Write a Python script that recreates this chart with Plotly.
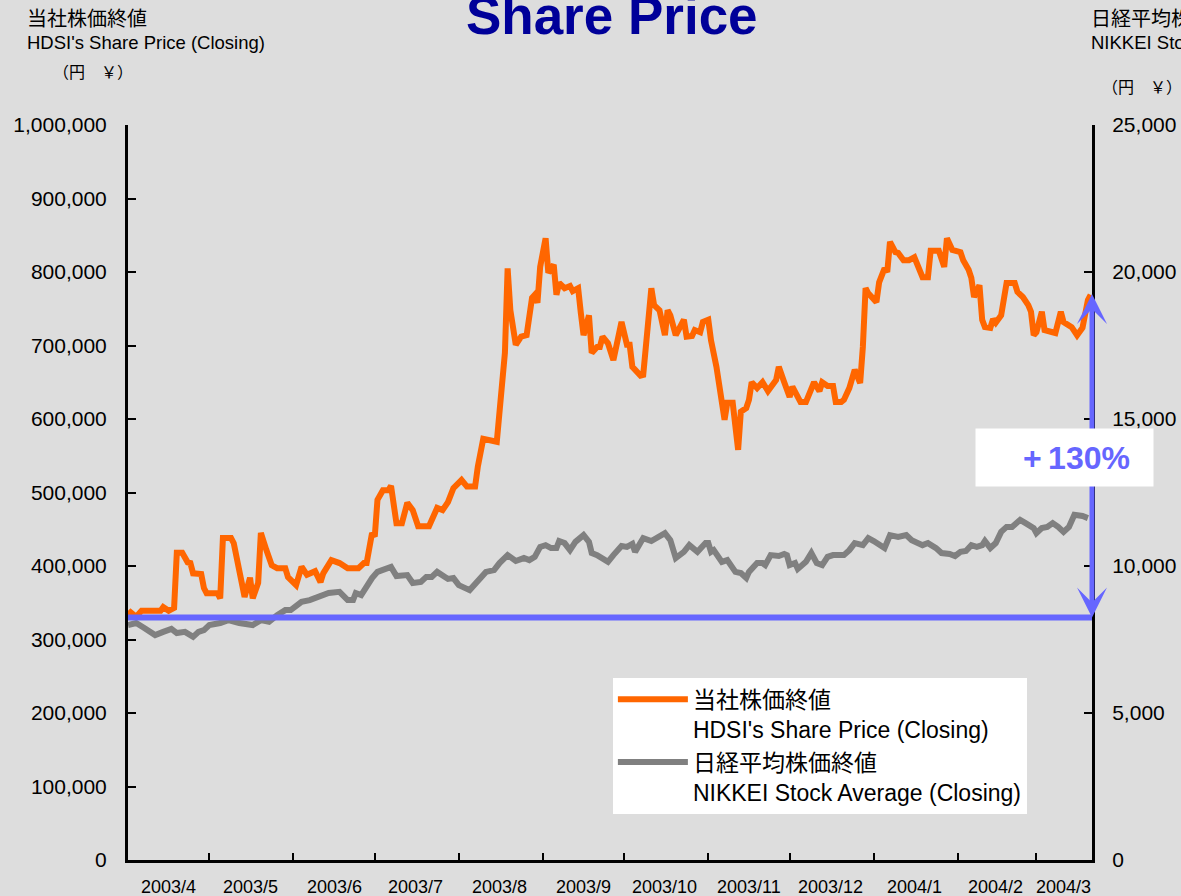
import plotly.graph_objects as go
from datetime import date, timedelta

# ---------------- data ----------------
HDSI_DATES = [
    "2003-04-01","2003-04-02","2003-04-04","2003-04-06","2003-04-13","2003-04-14","2003-04-16","2003-04-18",
    "2003-04-19","2003-04-21","2003-04-23","2003-04-24","2003-04-25","2003-04-28","2003-04-29","2003-04-30",
    "2003-05-04","2003-05-05","2003-05-06","2003-05-09","2003-05-10","2003-05-14","2003-05-16","2003-05-17",
    "2003-05-19","2003-05-20","2003-05-22","2003-05-24","2003-05-26","2003-05-29","2003-05-30",
    "2003-06-02","2003-06-04","2003-06-06","2003-06-09","2003-06-11","2003-06-12","2003-06-15","2003-06-18",
    "2003-06-21","2003-06-25","2003-06-27","2003-06-28","2003-06-30",
    "2003-07-01","2003-07-02","2003-07-04","2003-07-06","2003-07-07","2003-07-09","2003-07-11","2003-07-13",
    "2003-07-15","2003-07-17","2003-07-21","2003-07-24","2003-07-26","2003-07-28","2003-07-30",
    "2003-08-02","2003-08-04","2003-08-07","2003-08-08","2003-08-10","2003-08-15","2003-08-16","2003-08-18",
    "2003-08-19","2003-08-20","2003-08-22","2003-08-24","2003-08-26","2003-08-27","2003-08-28","2003-08-29",
    "2003-08-30","2003-08-31",
    "2003-09-02","2003-09-03","2003-09-05","2003-09-06","2003-09-07","2003-09-09","2003-09-11","2003-09-12",
    "2003-09-14","2003-09-15","2003-09-16","2003-09-18","2003-09-19","2003-09-21","2003-09-22","2003-09-23",
    "2003-09-25","2003-09-27","2003-09-30",
    "2003-10-02","2003-10-03","2003-10-04","2003-10-07","2003-10-08","2003-10-11","2003-10-12","2003-10-14",
    "2003-10-16","2003-10-17","2003-10-18","2003-10-20","2003-10-23","2003-10-24","2003-10-26","2003-10-27",
    "2003-10-29","2003-10-30",
    "2003-11-01","2003-11-02","2003-11-04","2003-11-06","2003-11-07","2003-11-08","2003-11-10","2003-11-12",
    "2003-11-13","2003-11-15","2003-11-16","2003-11-17","2003-11-19","2003-11-21","2003-11-23","2003-11-26",
    "2003-11-27","2003-11-29",
    "2003-12-01","2003-12-02","2003-12-05","2003-12-07","2003-12-10","2003-12-12","2003-12-13","2003-12-15",
    "2003-12-17","2003-12-18","2003-12-20","2003-12-21","2003-12-23","2003-12-25","2003-12-27","2003-12-28",
    "2003-12-29","2003-12-30",
    "2004-01-02","2004-01-03","2004-01-05","2004-01-06","2004-01-07","2004-01-09","2004-01-10","2004-01-12",
    "2004-01-14","2004-01-16","2004-01-17","2004-01-19","2004-01-21","2004-01-22","2004-01-25","2004-01-27",
    "2004-01-28","2004-01-30",
    "2004-02-02","2004-02-03","2004-02-05","2004-02-06","2004-02-07","2004-02-09","2004-02-10","2004-02-11",
    "2004-02-13","2004-02-14","2004-02-15","2004-02-17","2004-02-19","2004-02-22","2004-02-23","2004-02-25",
    "2004-02-27","2004-02-28","2004-02-29",
    "2004-03-01","2004-03-03","2004-03-04","2004-03-07","2004-03-08","2004-03-10","2004-03-11","2004-03-14",
    "2004-03-16","2004-03-18","2004-03-20","2004-03-21",
]
HDSI_PRICE = [
    333000,337000,331000,339000,339000,344000,339000,343000,
    418000,418000,405000,404000,390000,389000,370000,363000,
    363000,356000,438000,438000,431000,358000,384000,356000,
    377000,445000,422000,401000,397000,397000,385000,
    374000,399000,388000,393000,378000,390000,408000,404000,
    397000,397000,404000,404000,445000,
    440000,490000,503000,503000,509000,458000,458000,486000,
    476000,454000,454000,479000,476000,487000,506000,
    517000,508000,508000,535000,573000,569000,610000,690000,
    805000,748000,701000,712000,714000,748000,765000,769000,
    758000,807000,
    846000,799000,810000,769000,785000,778000,781000,774000,
    778000,744000,714000,741000,690000,698000,698000,712000,
    703000,680000,732000,
    701000,701000,671000,659000,660000,778000,755000,748000,
    714000,748000,741000,714000,735000,712000,713000,721000,
    718000,732000,
    735000,707000,671000,626000,599000,622000,622000,558000,
    610000,615000,626000,650000,642000,650000,638000,653000,
    671000,650000,
    630000,644000,623000,623000,650000,638000,650000,645000,
    645000,623000,623000,626000,642000,667000,649000,698000,
    778000,771000,
    759000,786000,805000,800000,841000,827000,826000,816000,
    816000,820000,812000,793000,793000,829000,829000,807000,
    846000,830000,
    827000,816000,803000,792000,766000,782000,735000,725000,
    724000,736000,731000,741000,785000,785000,773000,766000,
    755000,746000,714000,
    718000,746000,721000,718000,717000,746000,732000,725000,
    714000,724000,762000,769000,
]

NIKKEI_DATES = [
    "2003-04-01","2003-04-04","2003-04-07","2003-04-11","2003-04-14","2003-04-17","2003-04-19","2003-04-22",
    "2003-04-25","2003-04-27","2003-04-29",
    "2003-05-01","2003-05-05","2003-05-08","2003-05-12","2003-05-15","2003-05-17","2003-05-20","2003-05-23",
    "2003-05-26","2003-05-29","2003-05-31",
    "2003-06-04","2003-06-07","2003-06-11","2003-06-13","2003-06-14","2003-06-18","2003-06-21","2003-06-23",
    "2003-06-24","2003-06-26","2003-06-29","2003-06-30",
    "2003-07-02","2003-07-07","2003-07-09","2003-07-13","2003-07-15","2003-07-18","2003-07-20","2003-07-22",
    "2003-07-24","2003-07-28","2003-07-30",
    "2003-08-01","2003-08-05","2003-08-08","2003-08-11","2003-08-14","2003-08-16","2003-08-19","2003-08-22",
    "2003-08-25","2003-08-27","2003-08-29","2003-08-31",
    "2003-09-02","2003-09-04","2003-09-06","2003-09-07","2003-09-09","2003-09-11","2003-09-13","2003-09-16",
    "2003-09-18","2003-09-19","2003-09-21","2003-09-23","2003-09-25","2003-09-27","2003-09-30",
    "2003-10-02","2003-10-04","2003-10-05","2003-10-07","2003-10-08","2003-10-11","2003-10-14","2003-10-16",
    "2003-10-18","2003-10-20","2003-10-23","2003-10-25","2003-10-28","2003-10-31",
    "2003-11-01","2003-11-02","2003-11-03","2003-11-06","2003-11-08","2003-11-11","2003-11-13","2003-11-15",
    "2003-11-16","2003-11-19","2003-11-21","2003-11-22","2003-11-24","2003-11-27","2003-11-29","2003-11-30",
    "2003-12-01","2003-12-03","2003-12-04","2003-12-07","2003-12-09","2003-12-11","2003-12-13","2003-12-15",
    "2003-12-17","2003-12-21","2003-12-23","2003-12-25","2003-12-28","2003-12-30",
    "2004-01-01","2004-01-05","2004-01-07","2004-01-10","2004-01-13","2004-01-15","2004-01-19","2004-01-21",
    "2004-01-24","2004-01-26","2004-01-29","2004-01-31",
    "2004-02-02","2004-02-04","2004-02-06","2004-02-08","2004-02-10","2004-02-11","2004-02-13","2004-02-15",
    "2004-02-17","2004-02-19","2004-02-21","2004-02-24","2004-02-26","2004-02-29",
    "2004-03-01","2004-03-03","2004-03-05","2004-03-07","2004-03-09","2004-03-11","2004-03-13","2004-03-15",
    "2004-03-18","2004-03-20",
]
NIKKEI_AVG = [
    7990,8060,7890,7650,7760,7860,7720,7760,
    7590,7760,7820,
    7990,8060,8160,8060,7990,7990,8160,8100,
    8330,8500,8500,
    8780,8840,8980,9010,9080,9120,8840,8840,
    9080,9010,9520,9590,
    9800,9970,9660,9690,9420,9460,9630,9630,
    9800,9560,9590,
    9350,9180,9460,9800,9860,10100,10370,10170,
    10270,10200,10310,10650,
    10710,10610,10610,10850,10780,10540,10820,11050,
    10820,10440,10370,10240,10140,10370,10680,
    10650,10750,10480,10780,10950,10850,11020,11120,
    10880,10270,10480,10710,10480,10780,
    10780,10480,10540,10140,10200,9800,9760,9590,
    9800,10100,10100,10030,10370,10340,10410,10370,
    10030,10100,9900,10140,10440,10100,10030,10310,
    10370,10370,10540,10780,10710,10950,
    10850,10610,11050,10990,11050,10880,10710,10780,
    10610,10440,10410,10340,
    10480,10510,10710,10650,10710,10850,10610,10780,
    11160,11330,11330,11570,11460,11290,
    11120,11290,11330,11460,11330,11160,11330,11740,
    11700,11630,
]

MONTH_STARTS = ["2003-04-01","2003-05-01","2003-06-01","2003-07-01","2003-08-01","2003-09-01",
                "2003-10-01","2003-11-01","2003-12-01","2004-01-01","2004-02-01","2004-03-01"]
MONTH_LABELS = ["2003/4","2003/5","2003/6","2003/7","2003/8","2003/9",
                "2003/10","2003/11","2003/12","2004/1","2004/2","2004/3"]
X_START = "2003-04-01"
X_END = "2004-03-21 12:00"

BASE_PRICE = 330000      # starting level (blue baseline)
TARGET_PRICE = 770000    # level reached (+130%)
GAIN_LABEL = "+&#8201;130%"

LEFT_TICKS = [0, 100000, 200000, 300000, 400000, 500000, 600000, 700000, 800000, 900000, 1000000]
RIGHT_TICKS = [0, 5000, 10000, 15000, 20000, 25000]

# ---------------- styling ----------------
BG = "#DDDDDD"
ORANGE = "#FF6600"
GRAY = "#808080"
BLUE = "#6666FF"
FONT = "Liberation Sans, Arial, Noto Sans CJK JP, sans-serif"

fig = go.Figure()

fig.add_trace(go.Scatter(
    x=NIKKEI_DATES, y=NIKKEI_AVG, yaxis="y2", mode="lines",
    line=dict(color=GRAY, width=6),
    name="日経平均株価終値<br>NIKKEI Stock Average (Closing)", legendrank=2,
))
fig.add_trace(go.Scatter(
    x=HDSI_DATES, y=HDSI_PRICE, yaxis="y", mode="lines",
    line=dict(color=ORANGE, width=6),
    name="当社株価終値<br>HDSI's Share Price (Closing)", legendrank=1,
))

# month label positions: middle of the visible part of each month
def _d(s):
    return date.fromisoformat(s[:10])

end_d = _d(X_END) + timedelta(hours=12)
label_pos = []
for i, s in enumerate(MONTH_STARTS):
    a = _d(s)
    b = _d(MONTH_STARTS[i + 1]) if i + 1 < len(MONTH_STARTS) else end_d
    label_pos.append((a + (b - a) / 2).isoformat())

annotations = []
for pos, lab in zip(label_pos, MONTH_LABELS):
    annotations.append(dict(x=pos, xref="x", y=-0.037, yref="paper", text=lab,
                            showarrow=False, xanchor="center", yanchor="middle",
                            font=dict(size=18, color="black", family=FONT)))

MID = 547000
annotations += [
    dict(x=1, xref="paper", y=TARGET_PRICE, yref="y", ax=0, axref="pixel", ay=MID, ayref="y",
         showarrow=True, arrowhead=3, arrowsize=1, arrowwidth=5, arrowcolor=BLUE, text=""),
    dict(x=1, xref="paper", y=BASE_PRICE, yref="y", ax=0, axref="pixel", ay=MID, ayref="y",
         showarrow=True, arrowhead=3, arrowsize=1, arrowwidth=5, arrowcolor=BLUE, text=""),
    dict(x=0.9715, xref="paper", y=0.547, yref="paper", text=" ", showarrow=False,
         bgcolor="white", width=177, height=57, borderpad=0,
         xanchor="center", yanchor="middle", font=dict(size=10)),
    dict(x=0.984, xref="paper", y=0.547, yref="paper", text="<b>" + GAIN_LABEL + "</b>",
         showarrow=False, xanchor="center", yanchor="middle",
         font=dict(size=32, color=BLUE, family=FONT)),
    # axis headers
    dict(x=-0.1068, xref="paper", y=1.1442, yref="paper", text="当社株価終値", showarrow=False,
         xanchor="left", yanchor="middle", font=dict(size=20, color="black", family=FONT)),
    dict(x=-0.1068, xref="paper", y=1.1116, yref="paper", text="HDSI's Share Price (Closing)",
         showarrow=False, xanchor="left", yanchor="middle",
         font=dict(size=18.5, color="black", family=FONT)),
    dict(x=-0.080, xref="paper", y=1.0721, yref="paper", text="（円　￥）", showarrow=False,
         xanchor="left", yanchor="middle", font=dict(size=16, color="black", family=FONT)),
    dict(x=0.9969, xref="paper", y=1.1442, yref="paper", text="日経平均株価終値", showarrow=False,
         xanchor="left", yanchor="middle", font=dict(size=20, color="black", family=FONT)),
    dict(x=0.9969, xref="paper", y=1.1116, yref="paper", text="NIKKEI Stock Average (Closing)",
         showarrow=False, xanchor="left", yanchor="middle",
         font=dict(size=18.5, color="black", family=FONT)),
    dict(x=1.0083, xref="paper", y=1.0517, yref="paper", text="（円　￥）", showarrow=False,
         xanchor="left", yanchor="middle", font=dict(size=16, color="black", family=FONT)),
]

fig.update_layout(
    width=1181, height=896,
    paper_bgcolor=BG, plot_bgcolor=BG,
    margin=dict(l=128, r=89, t=125, b=36, autoexpand=False),
    font=dict(family=FONT, color="black"),
    title=dict(text="<b>Share Price</b>", x=0.518, xanchor="center", y=0.983, yanchor="middle",
               font=dict(size=53, color="#000099", family=FONT)),
    xaxis=dict(type="date", range=[X_START, X_END], tickmode="array", tickvals=MONTH_STARTS[1:],
               showticklabels=False, ticks="inside", ticklen=7, tickwidth=2, tickcolor="black",
               showline=True, linecolor="black", linewidth=3, showgrid=False, zeroline=False,
               automargin=False),
    yaxis=dict(range=[0, 1000000], tickmode="array", tickvals=LEFT_TICKS, tickformat=",",
               ticks="inside", ticklen=8, tickwidth=2, tickcolor="black",
               showline=True, linecolor="black", linewidth=3, showgrid=False, zeroline=False,
               tickfont=dict(size=21, color="black"), ticklabelstandoff=14, automargin=False),
    yaxis2=dict(range=[0, 25000], overlaying="y", side="right", tickmode="array",
                tickvals=RIGHT_TICKS, tickformat=",",
                ticks="inside", ticklen=8, tickwidth=2, tickcolor="black",
                showline=True, linecolor="black", linewidth=3, showgrid=False, zeroline=False,
                tickfont=dict(size=21, color="black"), ticklabelstandoff=13, automargin=False),
    legend=dict(x=0.503, xanchor="left", y=0.248, yanchor="top", bgcolor="white",
                font=dict(size=23, color="black"), valign="top", itemwidth=70,
                tracegroupgap=0),
    shapes=[dict(type="line", xref="paper", x0=0, x1=1, yref="y", y0=BASE_PRICE, y1=BASE_PRICE,
                 line=dict(color=BLUE, width=6), layer="above")],
    annotations=annotations,
    showlegend=True,
)

fig.write_html("out.html", config={"displayModeBar": False},
               post_script="document.body.style.margin='0';document.body.style.overflow='hidden';")
